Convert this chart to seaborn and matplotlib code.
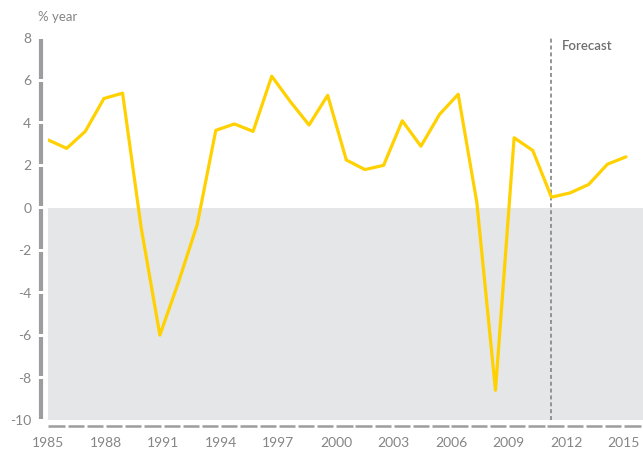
import numpy as np
import pandas as pd
import matplotlib
matplotlib.use("Agg")
import matplotlib.pyplot as plt
import matplotlib.transforms as mtransforms
import seaborn as sns

# values (annual growth, % per year)
years = list(range(1985, 2017))
growth = [3.2, 2.8, 3.6, 5.15, 5.4, -0.95, -6.0, -3.5, -0.8, 3.65,
          3.95, 3.6, 6.2, 5.0, 3.9, 5.3, 2.25, 1.8, 2.0, 4.1,
          2.9, 4.4, 5.35, 0.25, -8.6, 3.3, 2.7, 0.5, 0.7, 1.1,
          2.05, 2.4]
forecast_start = 2012
label_years = list(range(1985, 2016, 3))
segment_years = list(range(1985, 2016))
y_ticks = list(range(-10, 9, 2))

LINE = "#FFD100"
GREY_TXT = "#858585"
BAR = "#9d9d9f"
SHADE = "#e5e6e8"

sns.set_theme(style="white")
plt.rcParams['font.family'] = ['Lato', 'DejaVu Sans']

df = pd.DataFrame({"Year": years, "Growth": growth})

fig = plt.figure(figsize=(6.43, 4.50), dpi=100)
ax = fig.add_axes([48 / 643, 30 / 450, 595 / 643, 382 / 450])

# shaded negative zone
ax.axhspan(-10, 0, color=SHADE, zorder=0, lw=0)

sns.lineplot(data=df, x="Year", y="Growth", color=LINE, linewidth=2.3, ax=ax, zorder=3)

ax.axvline(forecast_start, color="#8c8c8c", lw=1.3, ls=(0, (2.2, 1.6)), zorder=2)
ax.text(forecast_start + 0.55, 7.6, "Forecast", color="#6e6e6e", fontsize=9.5,
        fontweight="semibold", ha="left", va="center")

ax.set_ylim(-10, 8)
ax.set_xlim(1985, 1985 + 595 / (578 / 31))
ax.set_xticks([])
ax.set_xlabel("")
ax.set_ylabel("")
ax.set_yticks(y_ticks)
ax.set_yticklabels([str(t) for t in y_ticks], color=GREY_TXT, fontsize=10)
ax.tick_params(axis="y", length=0, pad=12)
for s in ax.spines.values():
    s.set_visible(False)

# thick left bar, broken at each tick
trans = mtransforms.blended_transform_factory(ax.transAxes, ax.transData)
for lo, hi in zip(y_ticks[:-1], y_ticks[1:]):
    ax.plot([-0.0118, -0.0118], [lo + 0.07, hi - 0.07], transform=trans,
            color=BAR, lw=3.0, solid_capstyle="butt", clip_on=False)

# year labels on their own scale
ax2 = ax.twiny()
ax2.set_xlim(1985, 2016)
ax2.xaxis.set_ticks_position("bottom")
ax2.xaxis.set_label_position("bottom")
ax2.set_xticks(label_years)
ax2.set_xticklabels([str(y) for y in label_years], color=GREY_TXT, fontsize=10)
ax2.tick_params(axis="x", length=0, pad=12)
for s in ax2.spines.values():
    s.set_visible(False)

# dashed baseline under the plot
trans2 = mtransforms.blended_transform_factory(ax2.transData, ax2.transAxes)
for yr in segment_years:
    ax2.plot([yr + 0.02, yr + 0.87], [-0.015, -0.015], transform=trans2,
             color=BAR, lw=1.8, solid_capstyle="butt", clip_on=False)

fig.text(38 / 643, 1 - 17 / 450, "% year", color=GREY_TXT, fontsize=9.5,
         ha="left", va="center")

fig.savefig("out.png", dpi=100)
